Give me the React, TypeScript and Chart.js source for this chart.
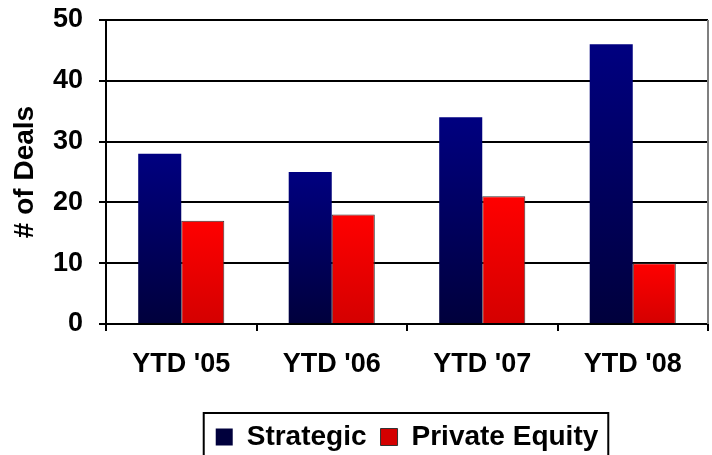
import React, { useEffect, useRef } from "react";
import { Chart, registerables } from "chart.js";

Chart.register(...registerables);

const categories = ["YTD '05", "YTD '06", "YTD '07", "YTD '08"];
const strategicValues = [28, 25, 34, 46];
const privateEquityValues = [17, 18, 21, 10];
const seriesLabels = ["Strategic", "Private Equity"];
const yMin = 0;
const yMax = 50;
const yStep = 10;

const FONT = "'Liberation Sans', Arial, sans-serif";

function barGradient(top: string, bottom: string, solid: string) {
  return (c: any) => {
    const chart = c.chart;
    if (c.type !== "data" || !chart.chartArea || !chart.scales.y) return solid;
    const ys = chart.scales.y;
    const yTop = ys.getPixelForValue(c.raw);
    const yBase = ys.getPixelForValue(0);
    if (!isFinite(yTop) || !isFinite(yBase) || yTop === yBase) return solid;
    const g = chart.ctx.createLinearGradient(0, yTop, 0, yBase);
    g.addColorStop(0, top);
    g.addColorStop(1, bottom);
    return g;
  };
}

const framePlugin = {
  id: "frame",
  afterDraw(chart: any) {
    const { ctx, chartArea } = chart;
    ctx.save();
    // right border of plot area
    ctx.strokeStyle = "#7f7f7f";
    ctx.lineWidth = 2;
    ctx.beginPath();
    ctx.moveTo(chartArea.right, chartArea.top);
    ctx.lineTo(chartArea.right, chartArea.bottom);
    ctx.stroke();
    // legend frame
    const lg = chart.legend;
    if (lg && lg.legendHitBoxes && lg.legendHitBoxes.length) {
      const hb = lg.legendHitBoxes;
      const left = hb[0].left - 12;
      const last = hb[hb.length - 1];
      const right = last.left + last.width + 10;
      const top = 413;
      ctx.strokeStyle = "#000";
      ctx.lineWidth = 2;
      ctx.strokeRect(left, top, right - left, chart.height - top + 10);
    }
    ctx.restore();
  },
};

export default function App() {
  const ref = useRef<HTMLCanvasElement | null>(null);

  useEffect(() => {
    if (!ref.current) return;
    const chart = new Chart(ref.current, {
      type: "bar",
      data: {
        labels: categories,
        datasets: [
          {
            label: seriesLabels[0],
            data: strategicValues,
            backgroundColor: barGradient("#000080", "#00003c", "#000070"),
            borderWidth: 0,
            categoryPercentage: 0.572,
            barPercentage: 1,
          },
          {
            label: seriesLabels[1],
            data: privateEquityValues,
            backgroundColor: barGradient("#ff0000", "#d40000", "#ff0000"),
            borderColor: "#333333",
            borderWidth: 1,
            categoryPercentage: 0.572,
            barPercentage: 1,
          },
        ],
      },
      options: {
        responsive: false,
        animation: false,
        devicePixelRatio: 1,
        layout: { padding: { top: 20, right: 4, left: 0, bottom: 0 } },
        plugins: {
          tooltip: { enabled: false },
          legend: {
            position: "bottom",
            fullSize: false,
            labels: {
              boxWidth: 17,
              boxHeight: 17,
              padding: 14,
              color: "#000",
              font: { family: FONT, size: 28, weight: "bold" },
            },
          },
        },
        scales: {
          x: {
            grid: {
              offset: true,
              drawOnChartArea: false,
              color: "#000",
              lineWidth: 2,
              tickLength: 7,
            },
            border: { color: "#000", width: 2 },
            ticks: {
              color: "#000",
              padding: 17,
              font: { family: FONT, size: 27, weight: "bold" },
            },
            afterFit(scale: any) {
              scale.height = 85;
              scale.paddingLeft = 0;
              scale.paddingRight = 0;
            },
          },
          y: {
            min: yMin,
            max: yMax,
            ticks: {
              stepSize: yStep,
              color: "#000",
              padding: 16,
              font: { family: FONT, size: 27, weight: "bold" },
            },
            grid: { color: "#000", lineWidth: 2, tickLength: 7 },
            border: { color: "#000", width: 2 },
            title: {
              display: true,
              text: "# of Deals",
              color: "#000",
              padding: { top: 8, bottom: 0 },
              font: { family: FONT, size: 28, weight: "bold" },
            },
            afterFit(scale: any) {
              scale.width = 106;
              scale.paddingTop = 0;
              scale.paddingBottom = 0;
            },
          },
        },
      },
      plugins: [framePlugin],
    });
    return () => chart.destroy();
  }, []);

  return (
    <div
      style={{
        position: "fixed",
        left: 0,
        top: 0,
        width: 712,
        height: 455,
        overflow: "hidden",
        background: "#fff",
      }}
    >
      <canvas ref={ref} width={712} height={461} style={{ display: "block" }} />
    </div>
  );
}
